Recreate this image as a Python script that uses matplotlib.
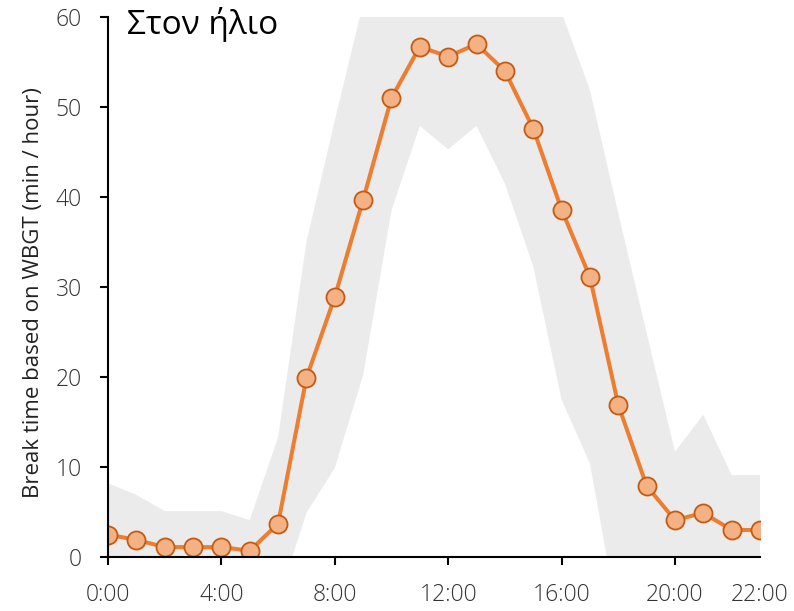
import matplotlib
matplotlib.use('Agg')
import matplotlib.pyplot as plt

# hourly break time and its spread band
hours = list(range(24))
break_time = [2.5, 1.9, 1.1, 1.1, 1.1, 0.7, 3.7, 19.9, 28.9, 39.7, 51.0, 56.7,
              55.6, 57.0, 54.0, 47.6, 38.6, 31.1, 16.9, 7.9, 4.1, 4.9, 3.0, 3.0]
band_upper = [8.2, 6.9, 5.1, 5.1, 5.1, 4.1, 13.3, 35.0, 48.5, 61.5, 64.0, 65.0,
              65.0, 65.0, 65.0, 64.0, 60.5, 51.9, 38.2, 24.9, 11.7, 15.8, 9.1, 9.1]
band_lower = [0.0, 0.0, 0.0, 0.0, 0.0, 0.0, -4.9, 4.9, 9.9, 20.2, 38.5, 47.9,
              45.3, 47.9, 41.5, 32.3, 17.5, 10.4, -7.0, 0.0, 0.0, 0.0, 0.0, 0.0]

tick_pos = [0, 4, 8, 12, 16, 20, 23]
tick_labels = ['0:00', '4:00', '8:00', '12:00', '16:00', '20:00', '22:00']
y_ticks = [0, 10, 20, 30, 40, 50, 60]

TICK_FONT = ['Open Sans', 'Liberation Sans', 'DejaVu Sans']
TEXT_FONT = ['Open Sans', 'Liberation Sans', 'DejaVu Sans']

fig = plt.figure(figsize=(7.94, 6.11), dpi=100)
fig.patch.set_facecolor('white')
ax = fig.add_axes([108 / 794, 54 / 611, 652 / 794, 540 / 611])

ax.fill_between(hours, band_lower, band_upper, color='#EBEBEB', lw=0, zorder=1)
ax.plot(hours, break_time, color='#ED7D31', lw=2.9, zorder=3,
        marker='o', ms=13, mfc='#F4B183', mec='#C55A11', mew=1.3)

ax.set_xlim(0, 23)
ax.set_ylim(0, 60)

ax.set_xticks(tick_pos)
ax.set_xticklabels(tick_labels)
ax.set_yticks(y_ticks)
ax.tick_params(axis='both', direction='out', length=6, width=1.5,
               colors='black', labelcolor='#333333', labelsize=16.5)
ax.tick_params(axis='x', pad=13)
ax.tick_params(axis='y', pad=13)
# last label sits at the end of the axis without a tick mark
ax.xaxis.get_major_ticks()[-1].tick1line.set_visible(False)
for lbl in ax.get_xticklabels() + ax.get_yticklabels():
    lbl.set_family(TICK_FONT)
    lbl.set_fontweight('light')

for side in ('top', 'right'):
    ax.spines[side].set_visible(False)
for side in ('left', 'bottom'):
    ax.spines[side].set_linewidth(1.5)
    ax.spines[side].set_zorder(4)

ax.set_ylabel('Break time based on WBGT (min / hour)', family=TEXT_FONT,
              fontsize=16, color='#222222')
ax.yaxis.set_label_coords(-0.098, 0.49)

fig.text(127 / 794, 1 - 7 / 611, 'Στον ήλιο', family=TEXT_FONT, fontsize=24,
         color='black', ha='left', va='top')

fig.savefig('out.png', dpi=100)
